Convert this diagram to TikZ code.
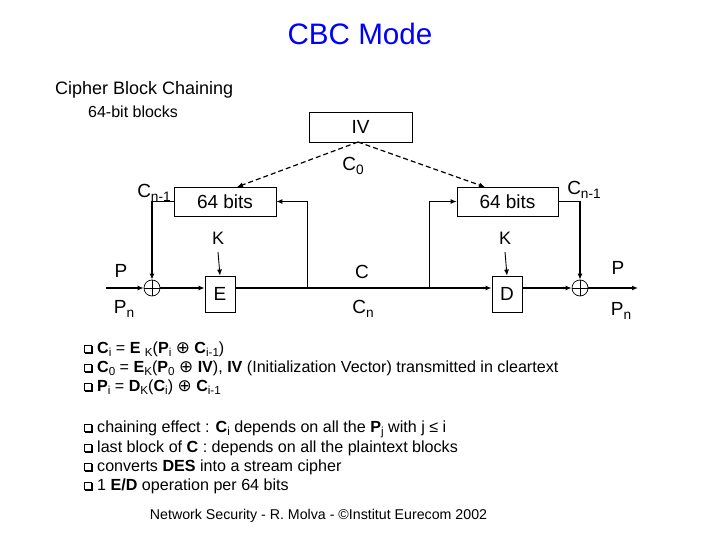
\documentclass[tikz,border=0pt]{standalone}
\usepackage{fontspec}
\usepackage{graphicx}
\setmainfont{Liberation Sans}
\newfontfamily\dvs{DejaVu Sans}
\usetikzlibrary{arrows.meta}
\newcommand{\lsub}[1]{\raisebox{-0.35ex}{\scalebox{0.72}{#1}}}
\newcommand{\xo}{{\dvs\scalebox{1.05}{⊕}}}
\newcommand{\sqbul}{\tikz[baseline=-0.5pt]{\fill[black] (1pt,-1pt) rectangle (9pt,7pt);\fill[white] (0pt,0pt) rectangle (7.6pt,7.6pt);\draw[line width=0.9pt] (0.45pt,0.45pt) rectangle (7.4pt,7.4pt);}}
\begin{document}
\begin{tikzpicture}[x=1pt,y=-1pt,
  every node/.style={inner sep=0pt},
  boxed/.style={draw,line width=0.8pt},
  xorc/.style={circle,draw,line width=0.7pt,minimum size=16pt,inner sep=0pt},
  arr/.style={-{Latex[length=6pt,width=5pt]}},
  thickln/.style={line width=1.6pt},
  thinln/.style={line width=0.9pt},
  dsh/.style={line width=1.2pt,dash pattern=on 5pt off 3pt},
  lbl/.style={font=\fontsize{19}{22}\selectfont},
  btxt/.style={anchor=west,font=\fontsize{16.1}{18}\selectfont}]
\useasboundingbox (0,0) rectangle (720,540);
% titles
\node[text={rgb,255:red,0;green,0;blue,255},font=\fontsize{29.6}{34}\selectfont] (title) at (360,34) {CBC Mode};
\node[anchor=west,font=\fontsize{18}{21}\selectfont] (sub1) at (55,90) {Cipher Block Chaining};
\node[anchor=west,font=\fontsize{16}{19}\selectfont] (sub2) at (88,112) {64-bit blocks};
% boxes
\node[boxed,minimum width=103pt,minimum height=30pt,font=\fontsize{19}{22}\selectfont] (IV) at (360.5,127) {IV};
\node[boxed,minimum width=102pt,minimum height=29pt,lbl] (B1) at (225,201.5) {64 bits};
\node[boxed,minimum width=101pt,minimum height=29pt,lbl] (B2) at (507.5,201.5) {64 bits};
\node[boxed,minimum width=30pt,minimum height=36pt,lbl] (E) at (220,294) {E};
\node[boxed,minimum width=30pt,minimum height=36pt,lbl] (D) at (507,294) {D};
\node[xorc] (x1) at (152,288) {};
\node[xorc] (x2) at (580,288) {};
\draw[line width=0.7pt] (x1.north)--(x1.south) (x1.west)--(x1.east);
\draw[line width=0.7pt] (x2.north)--(x2.south) (x2.west)--(x2.east);
% labels
\node[lbl] (c0) at (353,166) {C\lsub{0}};
\node[lbl] (cn1l) at (154,193) {C\lsub{n-1}};
\node[lbl] (cn1r) at (584,190) {C\lsub{n-1}};
\node[font=\fontsize{18}{21}\selectfont] (K1) at (218,238) {K};
\node[font=\fontsize{18}{21}\selectfont] (K2) at (505,238) {K};
\node[lbl] (Pl) at (121,271) {P};
\node[lbl] (Pnl) at (124,309) {P\lsub{n}};
\node[lbl] (Cl) at (362,272) {C};
\node[lbl] (Cnl) at (363,309) {C\lsub{n}};
\node[lbl] (Pr) at (618,268) {P};
\node[lbl] (Pnr) at (621,311) {P\lsub{n}};
% connectors
\coordinate (pin) at (106,288);
\coordinate (pout) at (638,288);
\coordinate (fl) at (307,288);
\coordinate (fr) at (429,288);
\coordinate (k1) at (218,252);
\coordinate (k2) at (505,252);
\coordinate (ivs) at (358,142);
\coordinate (b1t) at (237,187);
\coordinate (b2t) at (485,187);
\draw[thickln,arr] (pin) -- (x1.west);
\draw[thickln,arr] (x1.east) -- (x1.east -| E.west);
\draw[thickln,arr] (E.east |- x1) -- (D.west |- x1);
\draw[thickln,arr] (D.east |- x2) -- (x2.west);
\draw[thickln,arr] (x2.east) -- (pout);
\draw[thinln,arr] (fl) |- (B1.east);
\draw[thinln,arr] (fr) |- (B2.west);
\draw[thickln,arr] (B1.west) -| (x1.north);
\draw[thickln,arr] (B2.east) -| (x2.north);
\draw[thinln,arr] (k1) -- (E.north);
\draw[thinln,arr] (k2) -- (D.north);
\draw[dsh,arr] (ivs) -- (b1t);
\draw[dsh,arr] (ivs) -- (b2t);
% bullets
\node[btxt] (l1) at (84,349) {\sqbul\hspace{4pt}\textbf{C}\lsub{i} = \textbf{E} \lsub{K}(\textbf{P}\lsub{i} \xo{} \textbf{C}\lsub{i-1})};
\node[btxt] (l2) at (84,368) {\sqbul\hspace{4pt}\textbf{C}\lsub{0} = \textbf{E}\lsub{K}(\textbf{P}\lsub{0} \xo{} \textbf{IV}), \textbf{IV} (Initialization Vector) transmitted in cleartext};
\node[btxt] (l3) at (84,387) {\sqbul\hspace{4pt}\textbf{P}\lsub{i} = \textbf{D}\lsub{K}(\textbf{C}\lsub{i}) \xo{} \textbf{C}\lsub{i-1}};
\node[btxt] (l4) at (84,429) {\sqbul\hspace{4pt}chaining effect : \textbf{C}\lsub{i} depends on all the \textbf{P}\lsub{j} with j ≤ i};
\node[btxt] (l5) at (84,448) {\sqbul\hspace{4pt}last block of \textbf{C} : depends on all the plaintext blocks};
\node[btxt] (l6) at (84,467) {\sqbul\hspace{4pt}converts \textbf{DES} into a stream cipher};
\node[btxt] (l7) at (84,486) {\sqbul\hspace{4pt}1 \textbf{E/D} operation per 64 bits};
% footer
\node[font=\fontsize{14.2}{17}\selectfont] (foot) at (318.5,516) {Network Security - R. Molva - ©Institut Eurecom 2002};
\end{tikzpicture}
\end{document}
